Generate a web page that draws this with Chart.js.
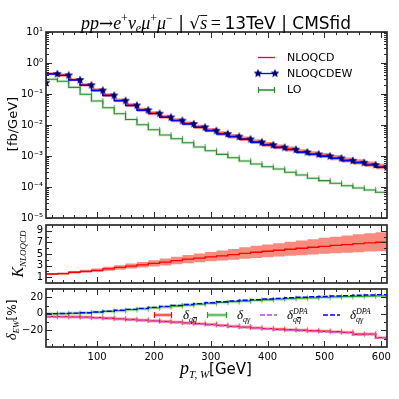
<!DOCTYPE html>
<html>
<head>
<meta charset="utf-8">
<script src="https://cdn.jsdelivr.net/npm/chart.js@4.4.1/dist/chart.umd.min.js"></script>
<style>
html, body { margin: 0; padding: 0; background: #fff; }
#wrap { position: relative; width: 399px; height: 399px; }
#wrap canvas { position: absolute; left: 0; top: 0; }
</style>
</head>
<body>
<div id="wrap">
  <canvas id="topChart" width="399" height="399"></canvas>
  <canvas id="kChart" width="399" height="399"></canvas>
  <canvas id="ewChart" width="399" height="399"></canvas>
</div>
<script>
// bin edges in pT,W [GeV]; value i belongs to the bin ending at binEdges[i]
const binEdges = [10, 30, 50, 70, 90, 110, 130, 150, 170, 190, 210, 230, 250, 270, 290, 310, 330, 350, 370, 390, 410, 430, 450, 470, 490, 510, 530, 550, 570, 590, 610];

// top panel [fb/GeV]
const nloqcd = [0.45, 0.451, 0.408, 0.290, 0.197, 0.134, 0.0922, 0.0626, 0.0441, 0.0311, 0.0240, 0.0184, 0.01435, 0.01123, 0.00877, 0.00684, 0.00536, 0.00439, 0.00363, 0.00291, 0.00237, 0.00197, 0.00169, 0.00139, 0.00119, 0.00104, 0.00089, 0.000747, 0.000648, 0.000546, 0.000462];
const nloqcdLow = [0.40, 0.400, 0.361, 0.256, 0.173, 0.117, 0.0802, 0.0543, 0.0381, 0.0268, 0.0206, 0.0158, 0.01228, 0.00958, 0.00746, 0.00580, 0.00453, 0.00370, 0.00305, 0.00244, 0.00198, 0.00164, 0.00140, 0.00115, 0.000982, 0.000856, 0.000731, 0.000612, 0.000530, 0.000446, 0.000376];
const nloqcdHigh = [0.50, 0.503, 0.456, 0.325, 0.222, 0.152, 0.1048, 0.0714, 0.0505, 0.0357, 0.0277, 0.0213, 0.01665, 0.01307, 0.01023, 0.00800, 0.00628, 0.00516, 0.00428, 0.00344, 0.00281, 0.00234, 0.00201, 0.00166, 0.00142, 0.00125, 0.00107, 0.000901, 0.000783, 0.000661, 0.000561];
const nloqcdew = [0.23, 0.442, 0.40, 0.283, 0.192, 0.130, 0.0895, 0.0608, 0.0426, 0.0300, 0.0232, 0.0177, 0.0138, 0.0108, 0.00843, 0.00655, 0.00513, 0.00420, 0.00346, 0.00277, 0.00226, 0.00188, 0.00160, 0.00132, 0.00113, 0.00098, 0.00084, 0.000705, 0.000608, 0.000513, 0.000432];
const lo = [0.298, 0.298, 0.257, 0.164, 0.0977, 0.0594, 0.0359, 0.0230, 0.0150, 0.01023, 0.0070, 0.00475, 0.00359, 0.00267, 0.00195, 0.00148, 0.00113, 0.00088, 0.00069, 0.000552, 0.000452, 0.000381, 0.000298, 0.000244, 0.000191, 0.000160, 0.000132, 0.000110, 0.0000929, 0.0000800, 0.0000675];

// middle panel, K factor
const kCentral = [1.55, 1.55, 1.62, 1.85, 2.02, 2.19, 2.45, 2.68, 2.92, 3.14, 3.37, 3.6, 3.86, 4.1, 4.3, 4.5, 4.69, 4.9, 5.12, 5.3, 5.47, 5.65, 5.82, 5.99, 6.16, 6.33, 6.48, 6.62, 6.78, 6.93, 7.03];
const kLow = [1.36, 1.36, 1.43, 1.62, 1.76, 1.89, 2.11, 2.29, 2.48, 2.67, 2.85, 3.02, 3.24, 3.42, 3.57, 3.74, 3.87, 4.02, 4.20, 4.32, 4.43, 4.58, 4.69, 4.79, 4.93, 5.03, 5.12, 5.23, 5.32, 5.41, 5.48];
const kHigh = [1.74, 1.74, 1.81, 2.09, 2.29, 2.50, 2.81, 3.08, 3.37, 3.64, 3.93, 4.21, 4.54, 4.84, 5.10, 5.36, 5.60, 5.88, 6.17, 6.41, 6.62, 6.86, 7.10, 7.31, 7.55, 7.79, 7.97, 8.18, 8.41, 8.59, 8.75];

// bottom panel, EW corrections [%]
const dQQ = [-3.3, -3.3, -3.4, -3.6, -4.0, -4.6, -5.3, -6.0, -6.8, -7.6, -8.4, -9.2, -10.0, -10.9, -11.8, -12.8, -14.0, -15.0, -16.0, -17.0, -17.8, -18.6, -19.2, -19.8, -20.4, -21.0, -21.6, -22.4, -24.6, -24.4, -28.6];
const dQA = [0.2, 0.2, 0.4, 0.7, 1.2, 2.0, 2.9, 3.9, 5.0, 6.1, 7.3, 8.4, 9.5, 10.6, 11.7, 12.8, 13.8, 14.7, 15.5, 16.3, 17.0, 17.7, 18.3, 18.9, 19.4, 19.9, 20.4, 20.8, 21.2, 21.5, 21.8];
const dQQdpa = [-3.7, -3.7, -3.8, -4.0, -4.4, -5.0, -5.7, -6.4, -7.2, -8.0, -8.8, -9.6, -10.5, -11.4, -12.3, -13.3, -14.5, -15.5, -16.5, -17.5, -18.3, -19.1, -19.7, -20.3, -20.9, -21.5, -22.1, -22.9, -25.2, -25.0, -29.2];
const dQAdpa = [0.3, 0.3, 0.5, 0.9, 1.4, 2.3, 3.2, 4.3, 5.4, 6.6, 7.8, 9.0, 10.2, 11.3, 12.4, 13.5, 14.6, 15.5, 16.4, 17.2, 18.0, 18.7, 19.4, 20.0, 20.6, 21.1, 21.6, 22.0, 22.4, 22.8, 23.2];

// tick labels
const xTicks = [100, 200, 300, 400, 500, 600];
const topYTicks = [1e-5, 1e-4, 1e-3, 1e-2, 1e-1, 1, 10];
const kTicks = [1, 3, 5, 7, 9];
const ewTicks = [-20, 0, 20];

const RED = '#ff0000', BAND = '#f98a7e', BLUE = '#0000ff', NAVY = '#000070', GREEN = '#2a8c2a';
const FRAME = '#2b2b2b';

function pts(arr) {
    return binEdges.map((x, i) => ({ x: x, y: arr[i] }));
}

function makeStar(r, color) {
    const c = document.createElement('canvas');
    const s = Math.ceil(r * 2 + 2);
    c.width = s; c.height = s;
    const g = c.getContext('2d');
    g.beginPath();
    for (let i = 0; i < 10; i++) {
        const rad = i % 2 ? r * 0.45 : r;
        const a = -Math.PI / 2 + i * Math.PI / 5;
        g.lineTo(s / 2 + rad * Math.cos(a), s / 2 + rad * Math.sin(a));
    }
    g.closePath();
    g.fillStyle = color;
    g.fill();
    return c;
}
const starImg = makeStar(4.6, NAVY);

const supMap = { '-': '⁻', '0': '⁰', '1': '¹', '2': '²', '3': '³', '4': '⁴', '5': '⁵', '6': '⁶', '7': '⁷', '8': '⁸', '9': '⁹' };
function powLabel(v) {
    const e = String(Math.round(Math.log10(v)));
    return '10' + e.split('').map(ch => supMap[ch]).join('');
}

// rich text helpers (sub/superscripts)
function richWidth(ctx, parts) {
    let w = 0;
    for (const p of parts) {
        ctx.font = p.f;
        if (p.adv !== 0) w += ctx.measureText(p.t).width;
    }
    return w;
}
function drawRich(ctx, parts, x, y) {
    let cx = x;
    for (const p of parts) {
        ctx.font = p.f;
        const w = ctx.measureText(p.t).width;
        const by = y + (p.dy || 0);
        ctx.fillText(p.t, cx, by);
        if (p.bar) {
            const lw = ctx.measureText(p.t.slice(-1)).width;
            const bx = p.bar === 'all' ? cx : cx + w - lw;
            ctx.fillRect(bx, by - p.barH, p.bar === 'all' ? w : lw, 0.9);
        }
        if (p.adv !== 0) cx += w;
    }
}
function drawCentered(ctx, parts, cx, y) {
    drawRich(ctx, parts, cx - richWidth(ctx, parts) / 2, y);
}
function drawRotated(ctx, parts, cx, cy) {
    ctx.save();
    ctx.translate(cx, cy);
    ctx.rotate(-Math.PI / 2);
    drawRich(ctx, parts, -richWidth(ctx, parts) / 2, 5);
    ctx.restore();
}

// frame with inward ticks on all four sides
const frameTicks = {
    id: 'frameTicks',
    afterDatasetsDraw(chart, args, opts) {
        const { ctx, chartArea: a, scales } = chart;
        ctx.save();
        ctx.strokeStyle = FRAME;
        ctx.lineWidth = 1;
        ctx.beginPath();
        const xt = (vals, len) => vals.forEach(v => {
            const px = Math.round(scales.x.getPixelForValue(v)) + 0.5;
            ctx.moveTo(px, a.bottom); ctx.lineTo(px, a.bottom - len);
            ctx.moveTo(px, a.top); ctx.lineTo(px, a.top + len);
        });
        const yt = (vals, len) => vals.forEach(v => {
            const py = Math.round(scales.y.getPixelForValue(v)) + 0.5;
            ctx.moveTo(a.left, py); ctx.lineTo(a.left + len, py);
            ctx.moveTo(a.right, py); ctx.lineTo(a.right - len, py);
        });
        xt(opts.xMajor, 6);
        xt(opts.xMinor, 3);
        yt(opts.yMajor, 6);
        yt(opts.yMinor, 3);
        ctx.stroke();
        ctx.lineWidth = 1.7;
        ctx.strokeRect(a.left, a.top, a.right - a.left, a.bottom - a.top);
        ctx.restore();
    }
};

const xMinor = [];
for (let v = 20; v <= 600; v += 20) if (v % 100 !== 0) xMinor.push(v);
const logMinor = [];
for (let e = -5; e < 1; e++) for (let m = 2; m <= 9; m++) logMinor.push(m * Math.pow(10, e));

const tickFont = { family: 'DejaVu Sans', size: 10 };
function yScale(extra) {
    return Object.assign({
        grid: { display: false, drawTicks: false },
        border: { display: false },
        afterFit: s => { s.width = 46; }
    }, extra);
}
function common(padding, frame) {
    return {
        responsive: false,
        animation: false,
        events: [],
        layout: { padding: padding },
        plugins: { legend: { display: false }, tooltip: { enabled: false }, frameTicks: frame }
    };
}

const SERIF_I = 'italic 18px "Liberation Serif"';

// ---------- top panel ----------
const topDecor = {
    id: 'topDecor',
    afterDraw(chart) {
        const ctx = chart.ctx;
        ctx.save();
        ctx.fillStyle = '#000';
        ctx.textBaseline = 'alphabetic';
        const sup = '12px "Liberation Serif"';
        drawCentered(ctx, [
            { t: 'pp', f: SERIF_I },
            { t: '→', f: '17px "DejaVu Serif"' },
            { t: 'e', f: SERIF_I }, { t: '+', f: sup, dy: -7 },
            { t: 'ν', f: SERIF_I }, { t: 'e', f: 'italic 12px "Liberation Serif"', dy: 3 },
            { t: 'μ', f: SERIF_I }, { t: '+', f: sup, dy: -7 },
            { t: 'μ', f: SERIF_I }, { t: '−', f: sup, dy: -7 },
            { t: ' | ', f: '17px "DejaVu Sans"' },
            { t: '√', f: '17px "DejaVu Sans"' },
            { t: 's', f: SERIF_I, bar: 'all', barH: 14 },
            { t: '\u2009=\u2009', f: '18px "Liberation Serif"' },
            { t: '13TeV | CMSfid', f: '17px "DejaVu Sans"' }
        ], 216, 29);

        // axis titles
        drawRotated(ctx, [{ t: '[fb/GeV]', f: '13px "DejaVu Sans"' }], 12, 124);
        drawRotated(ctx, [
            { t: 'K', f: 'italic 16px "Liberation Serif"' },
            { t: 'NLOQCD', f: 'italic 9px "Liberation Serif"', dy: 3 }
        ], 18, 254);
        drawRotated(ctx, [
            { t: 'δ', f: 'italic 15px "Liberation Serif"' },
            { t: 'EW', f: 'italic 9px "Liberation Serif"', dy: 3 },
            { t: '[%]', f: '12px "DejaVu Sans"' }
        ], 11, 320);
        drawCentered(ctx, [
            { t: 'p', f: 'italic 18px "Liberation Serif"' },
            { t: 'T, W', f: 'italic 11px "Liberation Serif"', dy: 4 },
            { t: '[GeV]', f: '15px "DejaVu Sans"' }
        ], 216, 374);

        // legend
        ctx.font = '11px "DejaVu Sans"';
        ctx.textBaseline = 'middle';
        const lx0 = 258, lx1 = 275, tx = 287;
        ctx.lineWidth = 1.3;
        ctx.strokeStyle = RED;
        ctx.beginPath(); ctx.moveTo(lx0, 57.5); ctx.lineTo(lx1, 57.5); ctx.stroke();
        ctx.fillText('NLOQCD', tx, 58);
        ctx.strokeStyle = BLUE;
        ctx.beginPath(); ctx.moveTo(lx0, 73.5); ctx.lineTo(lx1, 73.5); ctx.stroke();
        ctx.drawImage(starImg, lx0 - starImg.width / 2, 73.5 - starImg.height / 2);
        ctx.drawImage(starImg, lx1 - starImg.width / 2, 73.5 - starImg.height / 2);
        ctx.fillText('NLOQCDEW', tx, 74);
        ctx.strokeStyle = GREEN;
        ctx.beginPath();
        ctx.moveTo(lx0, 90); ctx.lineTo(lx1, 90);
        ctx.moveTo(lx0 + 0.5, 87); ctx.lineTo(lx0 + 0.5, 93);
        ctx.moveTo(lx1 - 0.5, 87); ctx.lineTo(lx1 - 0.5, 93);
        ctx.stroke();
        ctx.fillText('LO', tx, 90.5);
        ctx.restore();
    }
};

new Chart(document.getElementById('topChart'), {
    type: 'line',
    data: {
        datasets: [
            { data: pts(nloqcdHigh), stepped: 'after', borderWidth: 0, pointRadius: 0, fill: '+1', backgroundColor: BAND, order: 10 },
            { data: pts(nloqcdLow), stepped: 'after', borderWidth: 0, pointRadius: 0, fill: false, order: 11 },
            { data: pts(lo), stepped: 'after', borderColor: 'rgba(60,160,60,0.22)', borderWidth: 3, pointRadius: 0, order: 8 },
            { data: pts(lo), stepped: 'after', borderColor: GREEN, borderWidth: 1.1, pointStyle: 'line', rotation: 90, pointRadius: 3, pointBorderColor: 'rgba(42,140,42,0.7)', pointBorderWidth: 1, order: 7 },
            { data: pts(nloqcd), stepped: 'after', borderColor: RED, borderWidth: 1.2, pointRadius: 0, order: 5 },
            { data: pts(nloqcdew), stepped: 'after', borderColor: BLUE, borderWidth: 1.4, pointStyle: starImg, pointRadius: 4, order: 1 }
        ]
    },
    options: Object.assign(common({ left: 0, right: 12, top: 32, bottom: 181 },
        { xMajor: xTicks, xMinor: xMinor, yMajor: topYTicks, yMinor: logMinor }), {
        scales: {
            x: { type: 'linear', min: 10, max: 610, display: false },
            y: yScale({
                type: 'logarithmic', min: 1e-5, max: 10,
                afterBuildTicks: s => { s.ticks = topYTicks.map(v => ({ value: v })); },
                ticks: { color: '#000', padding: 3, autoSkip: false, font: tickFont, callback: v => powLabel(v) }
            })
        }
    }),
    plugins: [frameTicks, topDecor]
});

// ---------- middle panel ----------
new Chart(document.getElementById('kChart'), {
    type: 'line',
    data: {
        datasets: [
            { data: pts(kHigh), stepped: 'after', borderWidth: 0, pointRadius: 0, fill: '+1', backgroundColor: BAND, order: 10 },
            { data: pts(kLow), stepped: 'after', borderWidth: 0, pointRadius: 0, fill: false, order: 11 },
            { data: pts(kCentral), stepped: 'after', borderColor: RED, borderWidth: 1.3, pointRadius: 0, order: 1 }
        ]
    },
    options: Object.assign(common({ left: 0, right: 12, top: 225, bottom: 116 },
        { xMajor: xTicks, xMinor: xMinor, yMajor: kTicks, yMinor: [2, 4, 6, 8] }), {
        scales: {
            x: { type: 'linear', min: 10, max: 610, display: false },
            y: yScale({
                type: 'linear', min: 0, max: 10,
                afterBuildTicks: s => { s.ticks = kTicks.map(v => ({ value: v })); },
                ticks: { color: '#000', padding: 3, autoSkip: false, font: tickFont }
            })
        }
    }),
    plugins: [frameTicks]
});

// ---------- bottom panel ----------
const ewLegend = {
    id: 'ewLegend',
    afterDraw(chart) {
        const ctx = chart.ctx;
        const y = 315;
        ctx.save();
        ctx.fillStyle = '#000';
        ctx.textBaseline = 'alphabetic';
        const capLine = (x0, x1, col) => {
            ctx.strokeStyle = col.replace('1)', '0.3)');
            ctx.lineWidth = 3.5;
            ctx.beginPath(); ctx.moveTo(x0, y); ctx.lineTo(x1, y); ctx.stroke();
            ctx.strokeStyle = col;
            ctx.lineWidth = 1.2;
            ctx.beginPath();
            ctx.moveTo(x0, y); ctx.lineTo(x1, y);
            ctx.moveTo(x0 + 0.5, y - 3); ctx.lineTo(x0 + 0.5, y + 3);
            ctx.moveTo(x1 - 0.5, y - 3); ctx.lineTo(x1 - 0.5, y + 3);
            ctx.stroke();
        };
        const dashLine = (x0, x1, col, w) => {
            ctx.strokeStyle = col;
            ctx.lineWidth = w;
            ctx.setLineDash([5, 2]);
            ctx.beginPath(); ctx.moveTo(x0, y); ctx.lineTo(x1, y); ctx.stroke();
            ctx.setLineDash([]);
        };
        const dI = 'italic 13px "Liberation Serif"', sI = 'italic 8px "Liberation Serif"';
        capLine(154, 172, 'rgba(255,0,0,1)');
        drawRich(ctx, [{ t: 'δ', f: dI }, { t: 'qq', f: sI, dy: 3, bar: 'last', barH: 5 }], 183, y + 4);
        capLine(207, 227, 'rgba(34,160,34,1)');
        drawRich(ctx, [{ t: 'δ', f: dI }, { t: 'qγ', f: sI, dy: 3 }], 237, y + 4);
        dashLine(260, 277, 'rgba(190,100,235,0.9)', 2);
        drawRich(ctx, [{ t: 'δ', f: dI }, { t: 'qq', f: sI, dy: 3, bar: 'last', barH: 5, adv: 0 }, { t: 'DPA', f: sI, dy: -5 }], 287, y + 4);
        dashLine(323, 340, BLUE, 1.4);
        drawRich(ctx, [{ t: 'δ', f: dI }, { t: 'qγ', f: sI, dy: 3, adv: 0 }, { t: 'DPA', f: sI, dy: -5 }], 350, y + 4);
        ctx.restore();
    }
};

new Chart(document.getElementById('ewChart'), {
    type: 'line',
    data: {
        datasets: [
            { data: pts(dQQ), stepped: 'after', borderColor: 'rgba(255,0,0,0.25)', borderWidth: 3.5, pointRadius: 0, order: 9 },
            { data: pts(dQQ), stepped: 'after', borderColor: RED, borderWidth: 1.3, pointStyle: 'line', rotation: 90, pointRadius: 3, pointBorderColor: 'rgba(255,0,0,0.6)', pointBorderWidth: 1, order: 8 },
            { data: pts(dQA), stepped: 'after', borderColor: 'rgba(34,160,34,0.25)', borderWidth: 3.5, pointRadius: 0, order: 7 },
            { data: pts(dQA), stepped: 'after', borderColor: '#22a022', borderWidth: 1.3, pointStyle: 'line', rotation: 90, pointRadius: 3, pointBorderColor: 'rgba(34,160,34,0.6)', pointBorderWidth: 1, order: 6 },
            { data: pts(dQQdpa), stepped: 'after', borderColor: 'rgba(190,100,235,0.8)', borderWidth: 2, borderDash: [5, 2], pointRadius: 0, order: 3 },
            { data: pts(dQAdpa), stepped: 'after', borderColor: BLUE, borderWidth: 1.4, borderDash: [5, 2], pointRadius: 0, order: 2 }
        ]
    },
    options: Object.assign(common({ left: 0, right: 12, top: 289, bottom: 32 },
        { xMajor: xTicks, xMinor: xMinor, yMajor: ewTicks, yMinor: [-30, -10, 10] }), {
        scales: {
            x: {
                type: 'linear', min: 10, max: 610,
                grid: { display: false, drawTicks: false },
                border: { display: false },
                afterBuildTicks: s => { s.ticks = xTicks.map(v => ({ value: v })); },
                afterFit: s => { s.height = 20; },
                ticks: { color: '#000', padding: 4, maxRotation: 0, autoSkip: false, font: tickFont }
            },
            y: yScale({
                type: 'linear', min: -40, max: 30,
                afterBuildTicks: s => { s.ticks = ewTicks.map(v => ({ value: v })); },
                ticks: { color: '#000', padding: 3, autoSkip: false, font: tickFont, callback: v => String(v).replace('-', '−') }
            })
        }
    }),
    plugins: [frameTicks, ewLegend]
});
</script>
</body>
</html>
